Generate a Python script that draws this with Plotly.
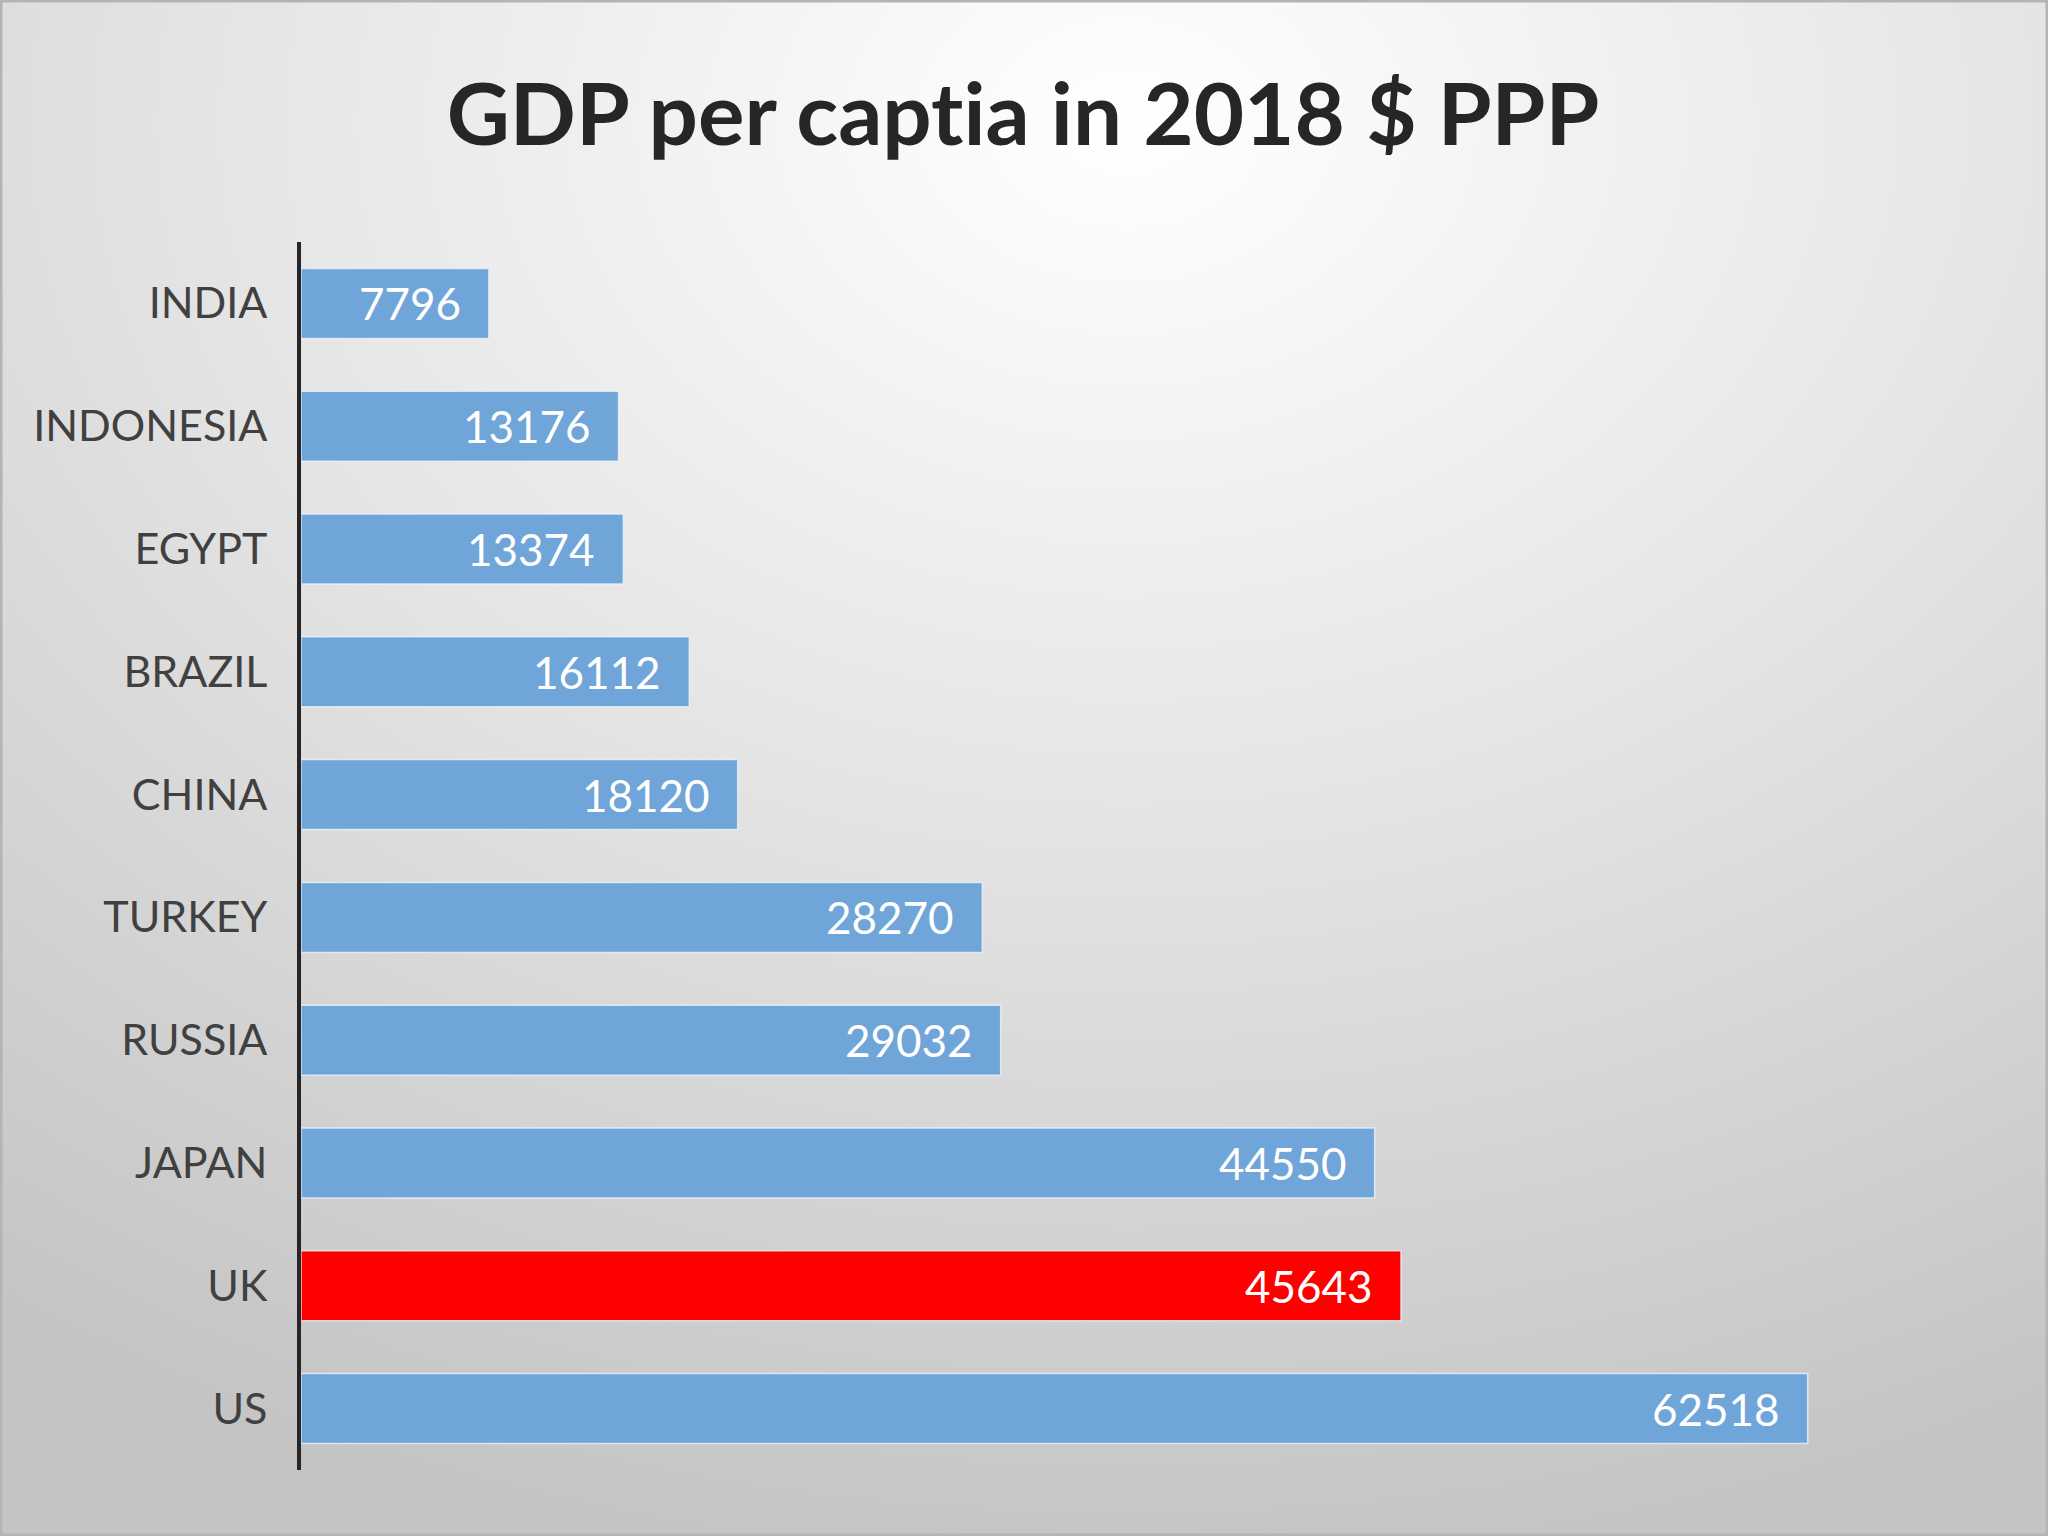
import base64
import plotly.graph_objects as go

countries = ["INDIA", "INDONESIA", "EGYPT", "BRAZIL", "CHINA", "TURKEY", "RUSSIA", "JAPAN", "UK", "US"]
gdp_ppp = [7796, 13176, 13374, 16112, 18120, 28270, 29032, 44550, 45643, 62518]
highlight = "UK"
title_text = "GDP per capt\u200cia in 2018 $ PPP"

W, H = 2048, 1536
L, T, R, B = 301, 242, 60, 66
pw, ph = W - L - R, H - T - B

blue = "#6fa5d8"
red = "#ff0000"
colors = [red if c == highlight else blue for c in countries]

svg = f'''<svg xmlns="http://www.w3.org/2000/svg" width="{W}" height="{H}" viewBox="0 0 {W} {H}">
<defs><radialGradient id="g" cx="0.55" cy="0.08" r="0.95" gradientUnits="objectBoundingBox">
<stop offset="0" stop-color="#ffffff"/><stop offset="0.45" stop-color="#e6e6e6"/><stop offset="1" stop-color="#c4c4c4"/>
</radialGradient></defs>
<rect x="0" y="0" width="{W}" height="{H}" fill="url(#g)"/>
<rect x="1" y="1" width="{W-2}" height="{H-2}" fill="none" stroke="#b4b4b4" stroke-width="3"/>
</svg>'''
src = "data:image/svg+xml;base64," + base64.b64encode(svg.encode()).decode()

fig = go.Figure(go.Bar(
    x=gdp_ppp, y=countries, orientation="h",
    marker=dict(color=colors, line=dict(color="rgba(235,243,250,0.8)", width=1.5)),
    hoverinfo="x+y",
))

annotations = [
    dict(x=v, y=c, xref="x", yref="y", text=str(v), showarrow=False,
         xanchor="right", yanchor="middle", xshift=-26, yshift=0,
         font=dict(family="Lato, Open Sans, sans-serif", size=44, color="white"))
    for c, v in zip(countries, gdp_ppp)
]

fig.update_layout(
    width=W, height=H,
    margin=dict(l=L, r=R, t=T, b=B, pad=0),
    paper_bgcolor="#d8d8d8", plot_bgcolor="rgba(0,0,0,0)",
    bargap=0.43,
    showlegend=False,
    title=dict(text=f"<b>{title_text}</b>", x=1023 / W, xanchor="center",
               y=1 - 115 / H, yanchor="middle", yref="container",
               font=dict(family="Lato, Open Sans, sans-serif", size=87, color="#262626")),
    xaxis=dict(range=[0, pw / 0.0241], showgrid=False, zeroline=False,
               showticklabels=False, showline=False, fixedrange=True),
    yaxis=dict(categoryorder="array", categoryarray=countries, autorange="reversed",
               showgrid=False, zeroline=False, showline=True, linecolor="#262626", linewidth=4,
               ticks="", ticklabelstandoff=21,
               tickfont=dict(family="Lato, Open Sans, sans-serif", size=43, color="#404040")),
    annotations=annotations,
    images=[dict(source=src, xref="paper", yref="paper",
                 x=-L / pw, y=1 + T / ph, sizex=W / pw, sizey=H / ph,
                 xanchor="left", yanchor="top", sizing="stretch", layer="below")],
)

fig.write_html("out.html")
